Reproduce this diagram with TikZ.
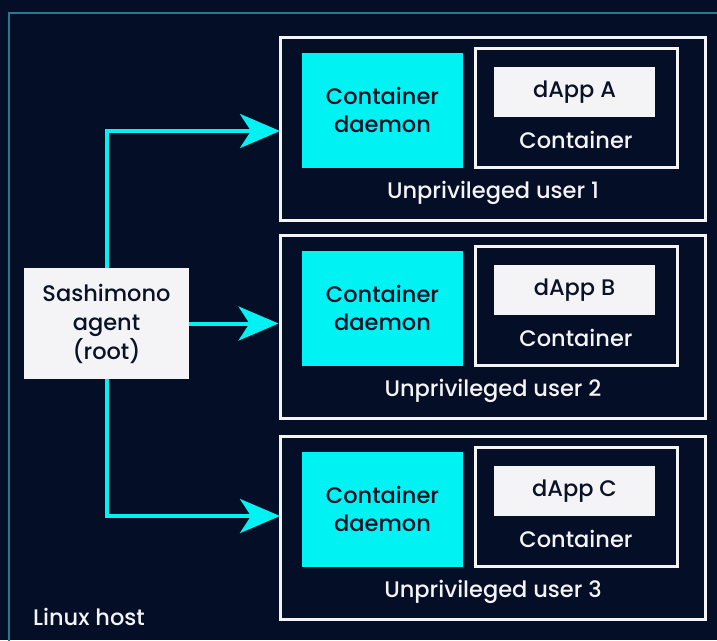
\documentclass[tikz,border=0pt]{standalone}
\usepackage{fontspec}
\setmainfont{Poppins}[UprightFont={* Medium}]
\usetikzlibrary{arrows.meta}
\definecolor{bg}{HTML}{050E27}
\definecolor{cy}{HTML}{00F2F2}
\definecolor{frm}{HTML}{237A8C}
\definecolor{ink}{HTML}{0A1228}
\definecolor{wt}{HTML}{F4F4F6}
\tikzset{
  userbox/.style={draw=wt, line width=3pt, minimum width=425pt, minimum height=183pt, inner sep=0pt},
  daemonbox/.style={fill=cy, minimum width=161pt, minimum height=115pt, inner sep=0pt, text=ink, align=center, font=\fontsize{22.5}{28.5}\selectfont},
  contbox/.style={draw=wt, line width=3pt, minimum width=202pt, minimum height=119pt, inner sep=0pt},
  dappbox/.style={fill=wt, minimum width=161pt, minimum height=50pt, inner sep=0pt, text=ink, font=\fontsize{22.5}{24}\selectfont},
  lbl/.style={text=wt, inner sep=0pt, font=\fontsize{22.5}{24}\selectfont},
  agentbox/.style={fill=wt, minimum width=165pt, minimum height=111pt, inner sep=0pt, text=ink, align=center, font=\fontsize{22.5}{29}\selectfont},
  conn/.style={draw=cy, line width=4pt, -{Stealth[length=40pt,width=34pt,inset=11pt]}}
}
\begin{document}
\begin{tikzpicture}[x=1pt,y=-1pt]
\useasboundingbox (0,0) rectangle (717,640);
\fill[bg] (0,0) rectangle (717,640);
\begin{scope}
\clip (0,0) rectangle (717,640);
\draw[frm, line width=1.2pt] (740,13) -- (9,13) -- (9,660);
\end{scope}
\node[lbl, anchor=west] (host) at (33,617) {Linux host};
\node[agentbox] (agent) at (106.5,323.5) {Sashimono\\agent\\(root)};
\foreach \i/\yo/\L/\N in {1/0/A/1,2/198/B/2,3/399/C/3}{
  \node[userbox] (u\i) at (492.5,128.5+\yo) {};
  \node[daemonbox] (d\i) at (382.5,110+\yo) {Container\\daemon};
  \node[contbox] (c\i) at (576,107.5+\yo) {};
  \node[dappbox] (a\i) at (574.5,92+\yo) {dApp \L};
  \node[lbl] (ct\i) at (576,140+\yo) {Container};
  \node[lbl] (ul\i) at (493,193+\yo) {Unprivileged user \N};
}
\coordinate (p1) at (280,131);
\coordinate (p3) at (280,516);
\draw[conn] (agent.north -| 107,0) -- (107,131) -- (p1);
\draw[conn] (agent.south -| 107,0) -- (107,516) -- (p3);
\draw[conn] (agent.east) -- (agent.east -| u2.west);
\end{tikzpicture}
\end{document}
